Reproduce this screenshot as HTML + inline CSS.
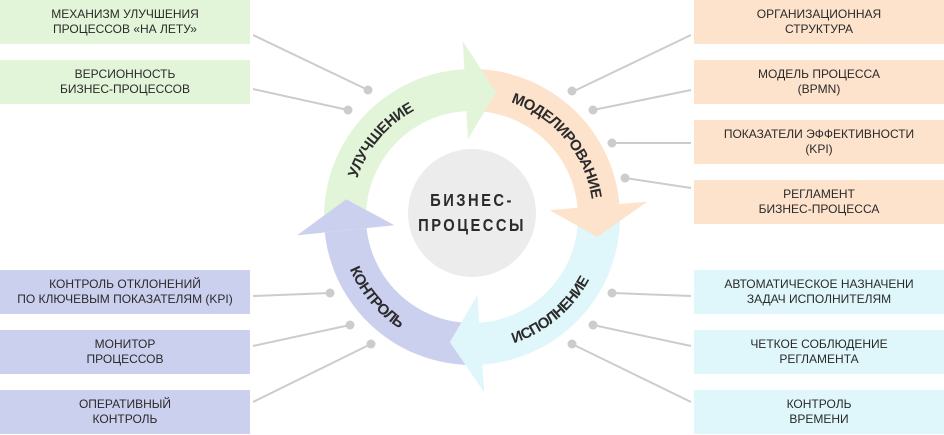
<!DOCTYPE html>
<html><head><meta charset="utf-8"><style>
html,body{margin:0;padding:0;background:#fff;width:944px;height:435px;overflow:hidden}
.b{position:absolute;width:250px;height:44px;display:flex;align-items:center;justify-content:center;text-align:center;font:12px/15px "Liberation Sans",sans-serif;color:#2a2a2a}
.g{background:#e3f5d8}.p{background:#fde2cc}.c{background:#dff7fb}.v{background:#ccd0ef}
svg{position:absolute;left:0;top:0}
</style></head><body>
<svg id="s" width="944" height="435" xmlns="http://www.w3.org/2000/svg">
<g stroke="#cccccc" stroke-width="2" fill="#cccccc">
<line x1="253" y1="35" x2="368" y2="90"/><circle cx="368" cy="90" r="4.5" stroke="none"/>
<line x1="253" y1="89" x2="348" y2="110"/><circle cx="348" cy="110" r="4.5" stroke="none"/>
<line x1="691" y1="35" x2="572" y2="92"/><circle cx="572" cy="91" r="4.5" stroke="none"/>
<line x1="691" y1="90" x2="593" y2="110"/><circle cx="593" cy="110" r="4.5" stroke="none"/>
<line x1="691" y1="143" x2="612" y2="143"/><circle cx="612" cy="143" r="4.5" stroke="none"/>
<line x1="691" y1="188" x2="625" y2="178"/><circle cx="625" cy="178" r="4.5" stroke="none"/>
<line x1="253" y1="296" x2="330" y2="293"/><circle cx="330" cy="293" r="4.5" stroke="none"/>
<line x1="253" y1="346" x2="350" y2="325"/><circle cx="350" cy="325" r="4.5" stroke="none"/>
<line x1="253" y1="402" x2="371" y2="344"/><circle cx="371" cy="344" r="4.5" stroke="none"/>
<line x1="691" y1="296" x2="612" y2="293"/><circle cx="612" cy="293" r="4.5" stroke="none"/>
<line x1="691" y1="346" x2="593" y2="325"/><circle cx="593" cy="325" r="4.5" stroke="none"/>
<line x1="691" y1="402" x2="572" y2="344"/><circle cx="572" cy="344" r="4.5" stroke="none"/>
</g>
<circle cx="472" cy="213" r="64" fill="#ececec"/>
<g id="ring"></g>
<g font-family="'Liberation Sans',sans-serif" font-weight="bold" fill="#2b2b2b" text-anchor="middle" transform="translate(472,0) scale(0.82,1) translate(-472,0)">
<text x="472" y="206" font-size="18" letter-spacing="3">БИЗНЕС-</text>
<text x="472" y="231" font-size="18" letter-spacing="3">ПРОЦЕССЫ</text>
</g>
<g id="lab" font-family="'Liberation Sans',sans-serif" font-weight="bold" font-size="15" letter-spacing="-0.6" fill="#2b2b2b" text-anchor="middle"></g>
</svg>
<div class="b g" style="left:0;top:0">МЕХАНИЗМ УЛУЧШЕНИЯ<br>ПРОЦЕССОВ «НА ЛЕТУ»</div>
<div class="b g" style="left:0;top:60px">ВЕРСИОННОСТЬ<br>БИЗНЕС-ПРОЦЕССОВ</div>
<div class="b v" style="left:0;top:270px">КОНТРОЛЬ ОТКЛОНЕНИЙ<br>ПО КЛЮЧЕВЫМ ПОКАЗАТЕЛЯМ (KPI)</div>
<div class="b v" style="left:0;top:330px">МОНИТОР<br>ПРОЦЕССОВ</div>
<div class="b v" style="left:0;top:390px">ОПЕРАТИВНЫЙ<br>КОНТРОЛЬ</div>
<div class="b p" style="left:694px;top:0">ОРГАНИЗАЦИОННАЯ<br>СТРУКТУРА</div>
<div class="b p" style="left:694px;top:60px">МОДЕЛЬ ПРОЦЕССА<br>(BPMN)</div>
<div class="b p" style="left:694px;top:120px">ПОКАЗАТЕЛИ ЭФФЕКТИВНОСТИ<br>(KPI)</div>
<div class="b p" style="left:694px;top:180px">РЕГЛАМЕНТ<br>БИЗНЕС-ПРОЦЕССА</div>
<div class="b c" style="left:694px;top:270px">АВТОМАТИЧЕСКОЕ НАЗНАЧЕНИ<br>ЗАДАЧ ИСПОЛНИТЕЛЯМ</div>
<div class="b c" style="left:694px;top:330px">ЧЕТКОЕ СОБЛЮДЕНИЕ<br>РЕГЛАМЕНТА</div>
<div class="b c" style="left:694px;top:390px">КОНТРОЛЬ<br>ВРЕМЕНИ</div>
<script>
var cx=472,cy=217,R1=148,R0=106;
function pt(a,r){var t=a*Math.PI/180;return (cx+r*Math.sin(t)).toFixed(1)+","+(cy-r*Math.cos(t)).toFixed(1);}
function body(a1,a2){var l=(a2-a1)>180?1:0;return "M"+pt(a1,R1)+" A"+R1+","+R1+" 0 "+l+" 1 "+pt(a2,R1)+" L"+pt(a2,R0)+" A"+R0+","+R0+" 0 "+l+" 0 "+pt(a1,R0)+"Z";}
function head(a,t){return "M"+pt(a,176)+" L"+pt(t,127)+" L"+pt(a,78)+"Z";}
var segs=[["#e3f5d8",270,357,357,11],["#fde2cc",0,85,85,99],["#dff7fb",90,176,176,190],["#ccd0ef",180,264,264,278]];
var g=document.getElementById("ring"),h="";
segs.forEach(function(s){h+='<path fill="'+s[0]+'" d="'+body(s[1],s[2])+'"/>';});
segs.forEach(function(s){h+='<path fill="'+s[0]+'" d="'+head(s[3],s[4])+'"/>';});
g.innerHTML=h;
function arc(id,a1,a2,r,cw){var l=Math.abs(a2-a1)>180?1:0;return '<path id="'+id+'" fill="none" d="M'+pt(a1,r)+' A'+r+','+r+' 0 '+l+' '+(cw?1:0)+' '+pt(a2,r)+'"/>';}
var L=document.getElementById("lab"),s="";
s+=arc("a1",230,390,121,1)+arc("a2",-30,130,121,1)+arc("a3",230,50,133,0)+arc("a4",320,140,133,0);
function tp(id,txt){return '<text><textPath href="#'+id+'" startOffset="50%">'+txt+'</textPath></text>';}
s+=tp("a1","УЛУЧШЕНИЕ")+tp("a2","МОДЕЛИРОВАНИЕ")+tp("a3","ИСПОЛНЕНИЕ")+tp("a4","КОНТРОЛЬ");
L.innerHTML=s;
</script>
</body></html>
